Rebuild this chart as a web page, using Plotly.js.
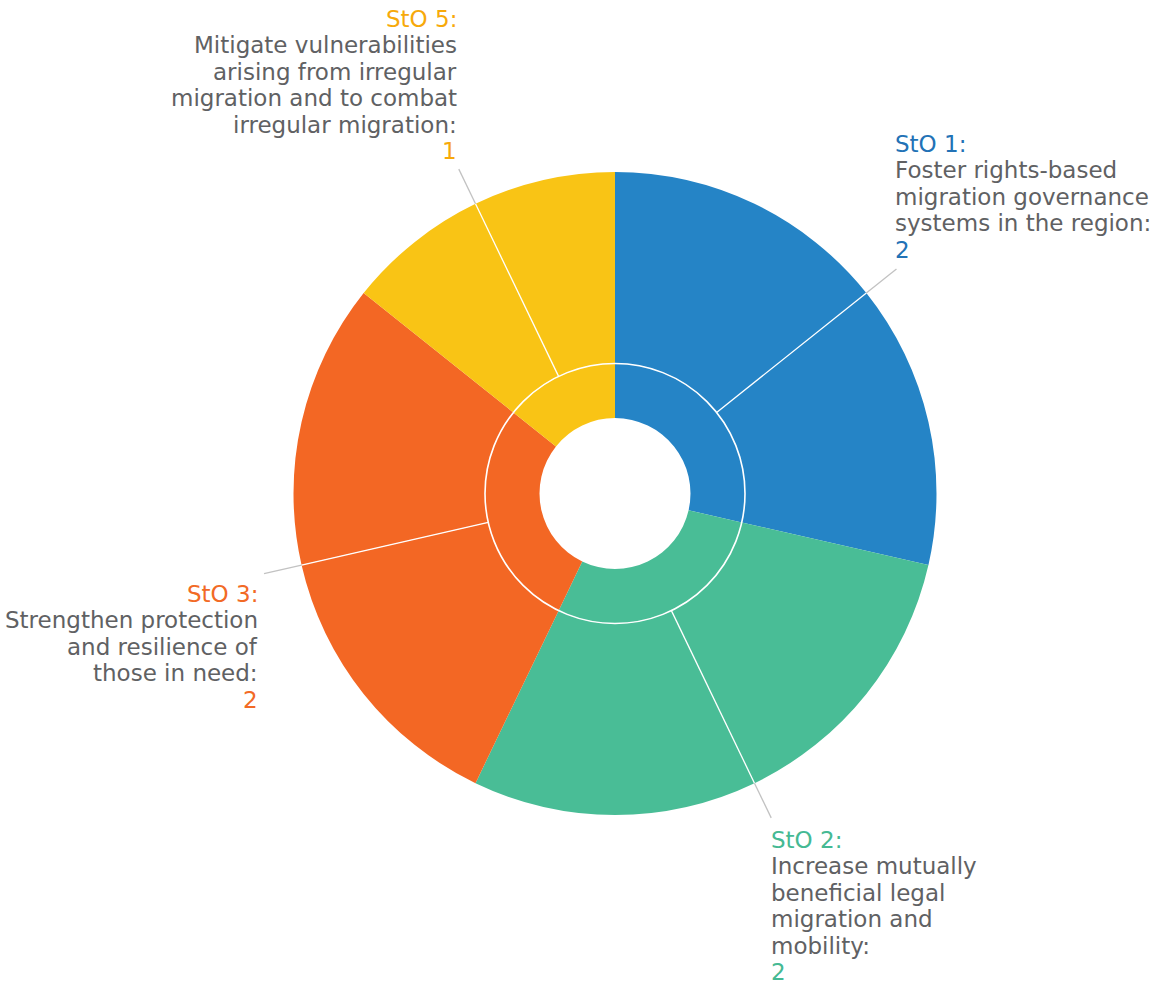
<!DOCTYPE html>
<html><head><meta charset="utf-8">
<script src="https://cdn.plot.ly/plotly-3.0.1.min.js"></script>
<style>html,body{margin:0;padding:0;background:#fff}#chart{width:1160px;height:984px}</style>
</head><body><div id="chart"></div>
<script>
// ---- data ----
const categories = ['StO 1', 'StO 2', 'StO 3', 'StO 5'];
const categoryCounts = [2, 2, 2, 1];
const categoryDescriptions = [
  ['Foster rights-based', 'migration governance', 'systems in the region:'],
  ['Increase mutually', 'beneficial legal', 'migration and', 'mobility:'],
  ['Strengthen protection', 'and resilience of', 'those in need:'],
  ['Mitigate vulnerabilities', 'arising from irregular', 'migration and to combat', 'irregular migration:']
];
const actionCategories = ['StO 1', 'StO 1', 'StO 2', 'StO 2', 'StO 3', 'StO 3', 'StO 5'];
const actionValues = [1, 1, 1, 1, 1, 1, 1];

// ---- styles / layout settings ----
const W = 1160, H = 984;
const cx = 615, cy = 493.5, rOuter = 321.5, rMid = 130, rHole = 75.5, rLabel = 360;
const sliceColors = {'StO 1': '#2584c6', 'StO 2': '#49bd96', 'StO 3': '#f36724', 'StO 5': '#f9c415'};
const titleColors = {'StO 1': '#2272b6', 'StO 2': '#45b993', 'StO 3': '#f26a25', 'StO 5': '#f7a90a'};
const textGrey = '#606163';
const FONT = 'DejaVu Sans, sans-serif';
const FS = 23, LINE = 26.4, BASE_SHIFT = 8;
const labelBlocks = {
  'StO 1': {x: 894, y: 152, align: 'left'},
  'StO 2': {x: 770, y: 848, align: 'left'},
  'StO 3': {x: 259, y: 602, align: 'right'},
  'StO 5': {x: 458, y: 27, align: 'right'}
};

const px = x => x / W;
const py = y => 1 - y / H;
const dom = r => ({x: [px(cx - r), px(cx + r)], y: [py(cy + r), py(cy - r)]});

const innerTrace = {
  type: 'pie', labels: categories, values: categoryCounts,
  sort: false, direction: 'clockwise', rotation: 0,
  hole: rHole / rMid, domain: dom(rMid),
  textinfo: 'none', hoverinfo: 'none',
  marker: {colors: categories.map(c => sliceColors[c]), line: {width: 0}}
};
const outerTrace = {
  type: 'pie', labels: actionCategories.map((c, i) => c + ' #' + i), values: actionValues,
  sort: false, direction: 'clockwise', rotation: 0,
  hole: rMid / rOuter, domain: dom(rOuter),
  textinfo: 'none', hoverinfo: 'none',
  marker: {colors: actionCategories.map(c => sliceColors[c]), line: {width: 0}}
};

const total = categoryCounts.reduce((a, b) => a + b, 0);
const shapes = [];
const annotations = [];
const pt = (r, deg) => {
  const t = deg * Math.PI / 180;
  return [px(cx + r * Math.sin(t)), py(cy - r * Math.cos(t))];
};
let cum = 0;
categories.forEach((c, i) => {
  const mid = (cum + categoryCounts[i] / 2) / total * 360;
  cum += categoryCounts[i];
  const a = pt(rMid, mid), b = pt(rOuter, mid), e = pt(rLabel, mid);
  shapes.push({type: 'line', xref: 'paper', yref: 'paper', x0: a[0], y0: a[1], x1: b[0], y1: b[1],
    line: {color: '#ffffff', width: 1.3}});
  shapes.push({type: 'line', xref: 'paper', yref: 'paper', x0: b[0], y0: b[1], x1: e[0], y1: e[1],
    line: {color: '#c2c2c2', width: 1.3}});

  const blk = labelBlocks[c];
  const lines = [{t: c + ':', col: titleColors[c]}]
    .concat(categoryDescriptions[i].map(t => ({t: t, col: textGrey})))
    .concat([{t: String(categoryCounts[i]), col: titleColors[c]}]);
  lines.forEach((ln, k) => {
    annotations.push({
      xref: 'paper', yref: 'paper', x: px(blk.x), y: py(blk.y + k * LINE - BASE_SHIFT),
      xanchor: blk.align, yanchor: 'middle', align: blk.align, showarrow: false, borderpad: 0,
      text: ln.t, font: {family: FONT, size: FS, color: ln.col}
    });
  });
});
// white ring between inner and outer rings
shapes.push({type: 'circle', xref: 'paper', yref: 'paper',
  x0: px(cx - rMid), x1: px(cx + rMid), y0: py(cy + rMid), y1: py(cy - rMid),
  line: {color: '#ffffff', width: 1.6}});

const layout = {
  width: W, height: H, margin: {l: 0, r: 0, t: 0, b: 0},
  showlegend: false, paper_bgcolor: '#ffffff',
  shapes: shapes, annotations: annotations
};
Plotly.newPlot('chart', [outerTrace, innerTrace], layout, {displayModeBar: false, staticPlot: true});
</script>
</body></html>
